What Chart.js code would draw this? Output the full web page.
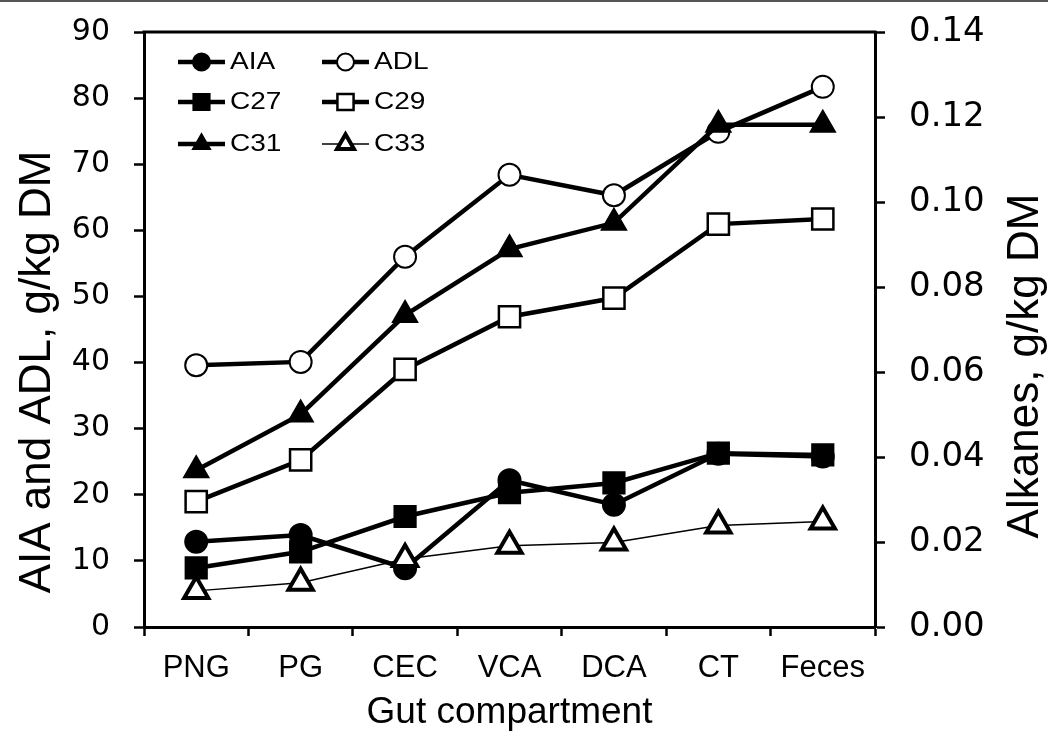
<!DOCTYPE html>
<html lang="en">
<head>
<meta charset="UTF-8" />
<title>Markers along the gut</title>
<script src="https://cdn.jsdelivr.net/npm/chart.js"></script>
<style>
  html, body { margin: 0; padding: 0; background: #fff; }
  #wrap { width: 1048px; height: 751px; }
</style>
</head>
<body>
<div id="wrap"><canvas id="gutChart" width="1048" height="751"></canvas></div>
<script>
  const compartments = ["PNG", "PG", "CEC", "VCA", "DCA", "CT", "Feces"];

  // AIA and ADL, g/kg DM (left axis)
  const aia = [12.9, 13.9, 8.9, 22.2, 18.5, 26.2, 25.8];
  const adl = [39.6, 40.1, 56.0, 68.4, 65.3, 74.9, 81.7];

  // n-alkanes, g/kg DM (right axis)
  const c27 = [0.0139, 0.0177, 0.026, 0.0316, 0.0339, 0.0409, 0.0405];
  const c29 = [0.0295, 0.0393, 0.0606, 0.073, 0.0774, 0.0948, 0.096];
  const c31 = [0.0369, 0.05, 0.0734, 0.0889, 0.0951, 0.1182, 0.1182];
  const c33 = [0.0085, 0.0104, 0.016, 0.0191, 0.0199, 0.0239, 0.0248];

  const leftTicks = [0, 10, 20, 30, 40, 50, 60, 70, 80, 90];
  const rightTicks = [0, 0.02, 0.04, 0.06, 0.08, 0.1, 0.12, 0.14];

  const xTitle = "Gut compartment";
  const leftTitle = "AIA and ADL, g/kg DM";
  const rightTitle = "Alkanes, g/kg DM";

  const black = "#000";

  function series(label, data, axis, shape, filled, lineW, markW, radius, order) {
    return {
      label: label,
      data: data,
      yAxisID: axis,
      order: order,
      borderColor: black,
      borderWidth: lineW,
      pointStyle: shape,
      pointRadius: radius,
      pointHoverRadius: radius,
      pointBackgroundColor: filled ? black : "#fff",
      pointBorderColor: black,
      pointBorderWidth: markW,
      tension: 0,
      fill: false
    };
  }

  const datasets = [
    series("AIA", aia, "y", "circle", true, 4.5, 2, 11, 6),
    series("ADL", adl, "y", "circle", false, 4.5, 2, 11, 5),
    series("C27", c27, "y1", "rect", true, 4.5, 2, 15, 4),
    series("C29", c29, "y1", "rect", false, 4.5, 2.5, 15, 3),
    series("C31", c31, "y1", "triangle", true, 4.5, 2, 14, 2),
    series("C33", c33, "y1", "triangle", false, 1.5, 4, 14, 1)
  ];

  // small marker for the legend rows
  function marker(ctx, ds, x, y, r) {
    ctx.beginPath();
    if (ds.pointStyle === "circle") {
      ctx.arc(x, y, r, 0, Math.PI * 2);
    } else if (ds.pointStyle === "rect") {
      const s = r * 0.95;
      ctx.rect(x - s, y - s, 2 * s, 2 * s);
    } else {
      const h = r * 1.15;
      ctx.moveTo(x, y - h);
      ctx.lineTo(x + h * 0.866, y + h * 0.5);
      ctx.lineTo(x - h * 0.866, y + h * 0.5);
      ctx.closePath();
    }
    ctx.fillStyle = ds.pointBackgroundColor;
    ctx.fill();
    ctx.lineWidth = ds.pointBorderWidth;
    ctx.strokeStyle = black;
    ctx.stroke();
  }

  const extras = {
    id: "extras",
    afterDraw(chart) {
      const ctx = chart.ctx;
      const a = chart.chartArea;
      ctx.save();

      // thin rule along the top edge of the figure
      ctx.fillStyle = "#555";
      ctx.fillRect(0, 0, chart.width, 2);

      // top side of the plot frame
      ctx.strokeStyle = black;
      ctx.lineWidth = 3;
      ctx.beginPath();
      ctx.moveTo(a.left - 1.5, a.top);
      ctx.lineTo(a.right + 1.5, a.top);
      ctx.stroke();

      // axis titles
      ctx.fillStyle = black;
      ctx.textAlign = "center";
      ctx.textBaseline = "middle";
      ctx.font = "37px 'Liberation Sans', Arial, sans-serif";
      ctx.fillText(xTitle, (a.left + a.right) / 2, 713);

      ctx.textBaseline = "alphabetic";
      ctx.font = "44px 'Liberation Sans', Arial, sans-serif";
      ctx.save();
      ctx.translate(50, 372);
      ctx.rotate(-Math.PI / 2);
      ctx.fillText(leftTitle, 0, 0);
      ctx.restore();

      ctx.save();
      ctx.translate(1038, 366);
      ctx.rotate(-Math.PI / 2);
      ctx.fillText(rightTitle, 0, 0);
      ctx.restore();

      // legend, two columns by three rows inside the plot
      const colX = [178, 322];
      const rowY = [62, 102, 144];
      const lineLen = 47;
      ctx.font = "23px 'Liberation Sans', Arial, sans-serif";
      ctx.textAlign = "left";
      ctx.textBaseline = "middle";
      chart.data.datasets.forEach(function (ds, i) {
        const x0 = colX[i % 2];
        const y = rowY[Math.floor(i / 2)];
        ctx.strokeStyle = black;
        ctx.lineWidth = ds.borderWidth;
        ctx.beginPath();
        ctx.moveTo(x0, y);
        ctx.lineTo(x0 + lineLen, y);
        ctx.stroke();
        marker(ctx, ds, x0 + lineLen / 2, y, 8.5);
        ctx.fillStyle = black;
        ctx.save();
        ctx.translate(x0 + lineLen + 5, y + 1);
        ctx.scale(1.22, 1);
        ctx.fillText(ds.label, 0, 0);
        ctx.restore();
      });

      ctx.restore();
    }
  };

  const axisGrid = {
    drawOnChartArea: false,
    drawTicks: true,
    tickLength: 10,
    tickWidth: 2.5,
    tickColor: black
  };

  // fixed axis bands so the plot box sits at 144..875 x 32..627
  function fixVertical(width) {
    return function (s) {
      s.width = width;
      s.paddingTop = 0;
      s.paddingBottom = 0;
    };
  }

  new Chart(document.getElementById("gutChart").getContext("2d"), {
    type: "line",
    data: { labels: compartments, datasets: datasets },
    options: {
      responsive: false,
      animation: false,
      layout: { padding: { top: 32, left: 0, right: 0, bottom: 0 } },
      plugins: { legend: { display: false }, tooltip: { enabled: false } },
      scales: {
        x: {
          type: "category",
          offset: true,
          grid: Object.assign({}, axisGrid, { offset: true, tickLength: 9 }),
          border: { display: true, color: black, width: 3 },
          ticks: {
            color: black,
            padding: 14,
            maxRotation: 0,
            font: { family: "'Liberation Sans', Arial, sans-serif", size: 31 }
          },
          afterFit: function (s) {
            s.height = 124;
            s.paddingLeft = 0;
            s.paddingRight = 0;
          }
        },
        y: {
          position: "left",
          min: 0,
          max: 90,
          grid: axisGrid,
          border: { display: true, color: black, width: 3 },
          ticks: {
            color: black,
            padding: 24,
            font: { family: "'DejaVu Sans', sans-serif", size: 30 }
          },
          afterBuildTicks: function (s) { s.ticks = leftTicks.map(v => ({ value: v })); },
          afterFit: fixVertical(144)
        },
        y1: {
          position: "right",
          min: 0,
          max: 0.14,
          grid: axisGrid,
          border: { display: true, color: black, width: 3 },
          ticks: {
            color: black,
            padding: 24,
            font: { family: "'DejaVu Sans', sans-serif", size: 34 },
            callback: function (v) { return Number(v).toFixed(2); }
          },
          afterBuildTicks: function (s) { s.ticks = rightTicks.map(v => ({ value: v })); },
          afterFit: fixVertical(173)
        }
      }
    },
    plugins: [extras]
  });
</script>
</body>
</html>
